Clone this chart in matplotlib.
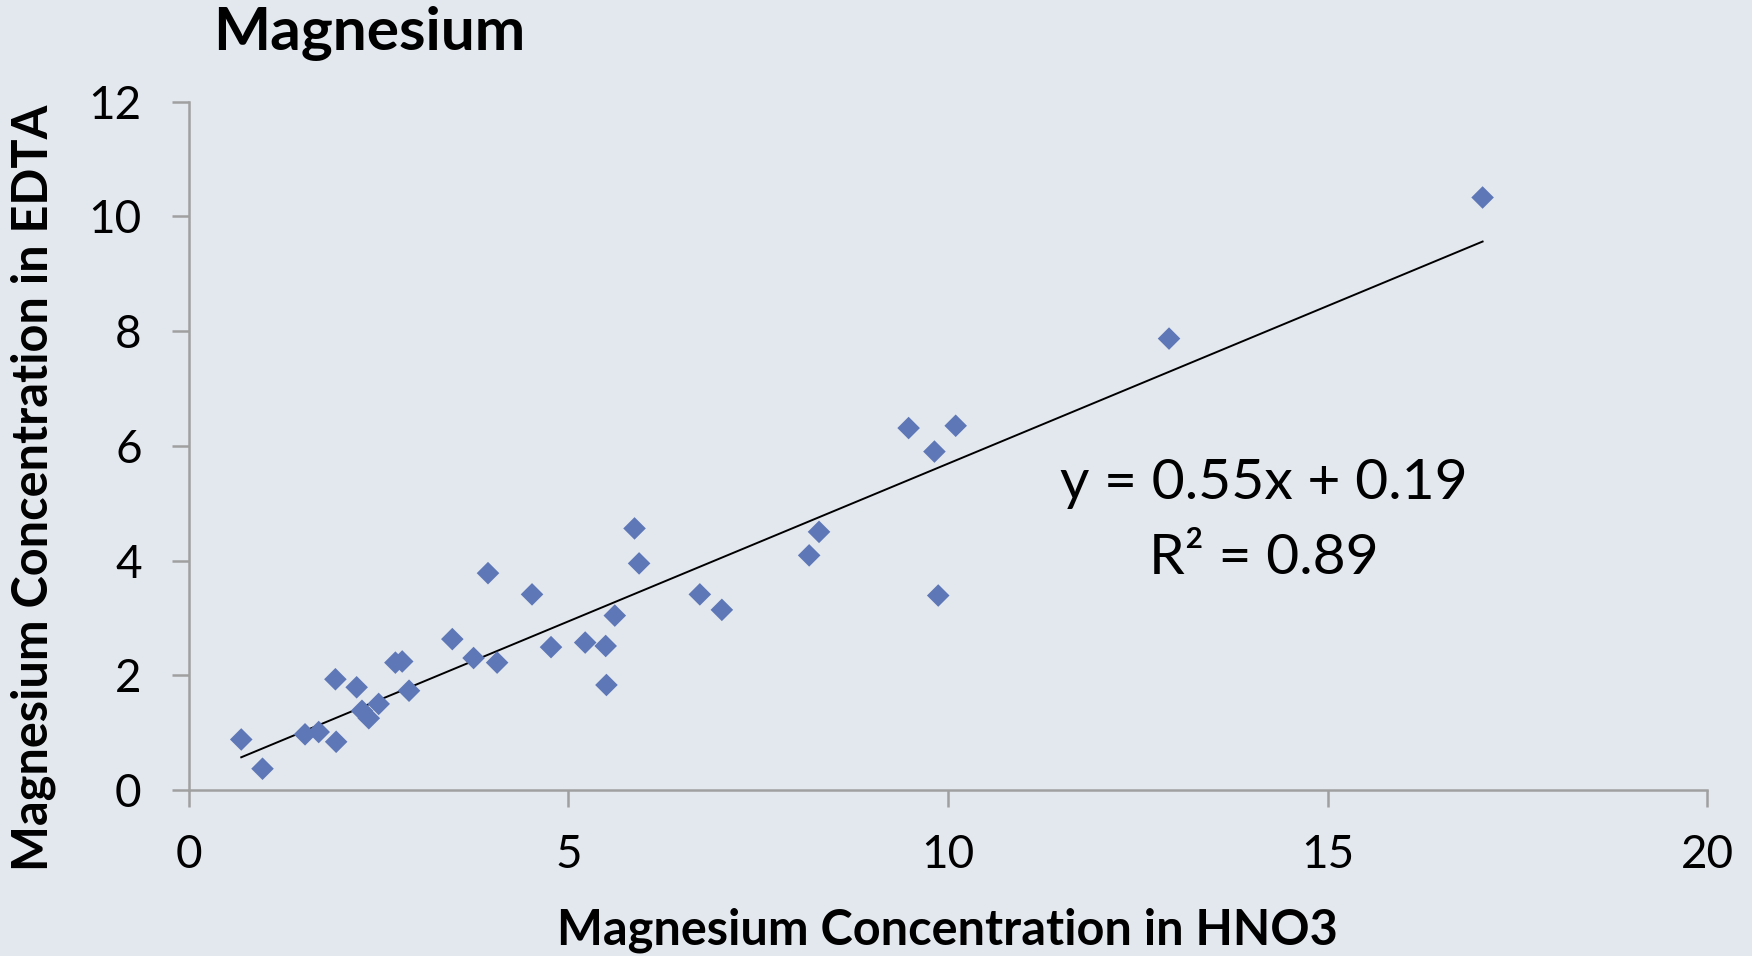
import numpy as np
import matplotlib.pyplot as plt

# Mg concentration measured after HNO3 digestion vs EDTA extraction
mg_hno3 = [0.69, 0.97, 1.53, 1.71, 1.93, 1.94, 2.21, 2.28, 2.37, 2.50,
           2.72, 2.81, 2.90, 3.47, 3.75, 3.94, 4.06, 4.52, 4.77, 5.22,
           5.49, 5.50, 5.61, 5.87, 5.93, 6.73, 7.02, 8.17, 8.30, 9.48,
           9.82, 9.87, 10.10, 12.91, 17.04]
mg_edta = [0.88, 0.37, 0.97, 1.01, 1.93, 0.84, 1.79, 1.38, 1.25, 1.50,
           2.22, 2.24, 1.73, 2.63, 2.30, 3.78, 2.22, 3.41, 2.49, 2.57,
           2.51, 1.83, 3.04, 4.56, 3.95, 3.41, 3.14, 4.09, 4.50, 6.31,
           5.90, 3.39, 6.35, 7.87, 10.33]

slope = 0.55
intercept = 0.19
r2 = 0.89

x_ticks = [0, 5, 10, 15, 20]
y_ticks = [0, 2, 4, 6, 8, 10, 12]

plt.rcParams['font.family'] = ['Lato', 'DejaVu Sans']

bg = '#E3E8EF'
fig = plt.figure(figsize=(17.52, 9.56), dpi=100, facecolor=bg)
ax = fig.add_axes([0.1078, 0.1737, 0.8667, 0.7199], facecolor=bg)

ax.scatter(mg_hno3, mg_edta, marker='D', s=11.5 ** 2, color='#5E77B6',
           edgecolors='none', zorder=3)

xs = np.array([min(mg_hno3), max(mg_hno3)])
ax.plot(xs, slope * xs + intercept, color='black', lw=1.4, zorder=2)

ax.text(14.16, 5.34, f"y = {slope:.2f}x + {intercept:.2f}", fontsize=41,
        ha='center', va='center')
ax.text(14.16, 4.03, f"R² = {r2:.2f}", fontsize=41, ha='center', va='center')

ax.set_xlim(0, 20)
ax.set_ylim(0, 12)
ax.set_xticks(x_ticks)
ax.set_yticks(y_ticks)
ax.tick_params(axis='both', labelsize=33, length=12, width=1.8,
               color='#A0A0A0')
ax.tick_params(axis='y', pad=22)
ax.tick_params(axis='x', pad=20)
for side in ('top', 'right'):
    ax.spines[side].set_visible(False)
for side in ('left', 'bottom'):
    ax.spines[side].set_color('#A0A0A0')
    ax.spines[side].set_linewidth(1.8)

fig.text(0.1216, 0.948, "Magnesium", fontsize=43.5, fontweight='bold',
         ha='left', va='baseline')
fig.text(0.541, 0.027, "Magnesium Concentration in HNO3", fontsize=35,
         fontweight='bold', ha='center', va='center')
fig.text(0.019, 0.49, "Magnesium Concentration in EDTA", fontsize=35,
         fontweight='bold', ha='center', va='center', rotation=90)

fig.savefig("out.png", dpi=100, facecolor=bg)
